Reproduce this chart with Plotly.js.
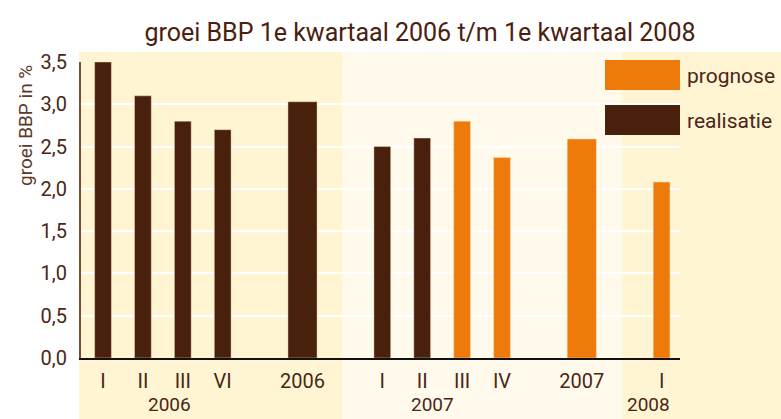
<!DOCTYPE html>
<html>
<head>
<meta charset="utf-8">
<script src="https://cdn.plot.ly/plotly-3.0.1.min.js"></script>
<style>
  html, body { margin: 0; padding: 0; background: #ffffff; }
  #chart { width: 781px; height: 419px; }
</style>
</head>
<body>
<div id="chart"></div>
<script>
// ---- data ----
const barLabels = ['I', 'II', 'III', 'VI', '2006', 'I', 'II', 'III', 'IV', '2007', 'I'];
const barGroups = ['2006', '2006', '2006', '2006', '2006', '2007', '2007', '2007', '2007', '2007', '2008'];
const growth    = [3.5, 3.1, 2.8, 2.7, 3.03, 2.5, 2.6, 2.8, 2.37, 2.59, 2.08];
const barStatus = ['realisatie', 'realisatie', 'realisatie', 'realisatie', 'realisatie',
                   'realisatie', 'realisatie', 'prognose', 'prognose', 'prognose', 'prognose'];
const years = ['2006', '2007', '2008'];
const seriesNames = ['prognose', 'realisatie'];
const yTicks = [0, 0.5, 1.0, 1.5, 2.0, 2.5, 3.0, 3.5];
const titleText = 'groei BBP 1e kwartaal 2006 t/m 1e kwartaal 2008';
const yTitleText = 'groei BBP in %';

// ---- styling ----
const colors = { prognose: '#ee7a0b', realisatie: '#48200c' };
const textColor = '#4a2616';
const bandColors = { '2006': '#fff5d3', '2007': '#fffaec', '2008': '#fff5d3' };
const W = 781, H = 419;
const M = { l: 81, r: 101, t: 62, b: 61 };
const plotW = W - M.l - M.r, plotH = H - M.t - M.b;

// ---- slot positions (layout): annual bars sit one empty slot apart ----
const isAnnual = barLabels.map(l => /^\d{4}$/.test(l));
const pos = [];
let s = 0;
for (let i = 0; i < barLabels.length; i++) {
  if (i > 0) s += (isAnnual[i] || isAnnual[i - 1]) ? 2 : 1;
  pos.push(s);
}
const slotPx = 39.9;
const x0 = -22 / slotPx;
const x1 = x0 + plotW / slotPx;
const toPaperX = v => (v - x0) / (x1 - x0);
const widths = isAnnual.map(a => a ? 0.73 : 0.42);

// ---- traces ----
const traces = seriesNames.map(name => {
  const idx = growth.map((_, i) => i).filter(i => barStatus[i] === name);
  return {
    type: 'bar',
    name: name,
    x: idx.map(i => pos[i]),
    y: idx.map(i => growth[i]),
    width: idx.map(i => widths[i]),
    marker: { color: colors[name], line: { color: 'rgba(255,225,190,0.55)', width: 0.8 } },
    hoverinfo: 'x+y',
    showlegend: false
  };
});

// ---- background bands per year ----
const shapes = [];
const annotations = [];
const bandEdges = [];
years.forEach((yr, k) => {
  const idx = barGroups.map((g, i) => i).filter(i => barGroups[i] === yr);
  const first = pos[idx[0]], last = pos[idx[idx.length - 1]];
  bandEdges.push({ yr, first, last, idx });
});
bandEdges.forEach((b, k) => {
  const left = k === 0 ? -2 / plotW : toPaperX((bandEdges[k - 1].last + b.first) / 2);
  const right = k === bandEdges.length - 1 ? (W - M.l) / plotW : toPaperX((b.last + bandEdges[k + 1].first) / 2);
  shapes.push({
    type: 'rect', xref: 'paper', yref: 'paper', layer: 'below',
    x0: left, x1: right, y0: -M.b / plotH, y1: 1 + 10 / plotH,
    fillcolor: bandColors[b.yr], line: { width: 0 }
  });
});

// year labels (second row)
const yearShift = [7, -10, -13];
bandEdges.forEach((b, k) => {
  const q = b.idx.filter(i => !isAnnual[i]).map(i => pos[i]);
  const c = q.reduce((a, v) => a + v, 0) / q.length;
  annotations.push({
    xref: 'x', yref: 'paper', x: c, y: 0, yshift: -46, xshift: yearShift[k],
    text: b.yr, showarrow: false, xanchor: 'center', yanchor: 'middle',
    font: { family: 'Roboto, sans-serif', size: 19, color: textColor }
  });
});

// legend drawn as boxes + text
seriesNames.forEach((name, k) => {
  const top = 60 + k * 45, bot = top + 30;
  shapes.push({
    type: 'rect', xref: 'paper', yref: 'paper', layer: 'above',
    x0: (605 - M.l) / plotW, x1: (680 - M.l) / plotW,
    y0: (H - M.b - bot) / plotH, y1: (H - M.b - top) / plotH,
    fillcolor: colors[name], line: { width: 0 }
  });
  annotations.push({
    xref: 'paper', yref: 'paper', x: (685 - M.l) / plotW, y: (H - M.b - (top + 16)) / plotH,
    text: name, showarrow: false, xanchor: 'left', yanchor: 'middle',
    font: { family: 'Roboto, sans-serif', size: 21, color: textColor }
  });
});

// y-axis title
annotations.push({
  xref: 'paper', yref: 'paper', x: (25 - M.l) / plotW, y: (H - M.b - 126) / plotH,
  text: yTitleText, textangle: -90, showarrow: false, xanchor: 'center', yanchor: 'middle',
  font: { family: 'Roboto, sans-serif', size: 19, color: '#5b3a28' }
});

const layout = {
  width: W, height: H,
  margin: M,
  paper_bgcolor: '#ffffff',
  plot_bgcolor: 'rgba(0,0,0,0)',
  separators: ',.',
  title: {
    text: titleText,
    x: 420 / W, xref: 'container', xanchor: 'center',
    y: 1 - 32 / H, yref: 'container', yanchor: 'middle',
    font: { family: 'Roboto, sans-serif', size: 25, color: '#4a2010', weight: 'normal' }
  },
  xaxis: {
    range: [x0, x1],
    tickmode: 'array', tickvals: pos, ticktext: barLabels,
    ticks: '', showgrid: false, zeroline: false,
    showline: true, linecolor: '#111111', linewidth: 2,
    ticklabelstandoff: 4,
    tickfont: { family: 'Roboto, sans-serif', size: 20, color: textColor },
    fixedrange: true
  },
  yaxis: {
    range: [0, 3.5],
    tickmode: 'array', tickvals: yTicks, tickformat: '.1f',
    ticks: '', showgrid: true, gridcolor: '#ffffff', gridwidth: 2,
    zeroline: false,
    showline: true, linecolor: '#7a4e2e', linewidth: 2,
    ticklabelstandoff: 8,
    tickfont: { family: 'Roboto, sans-serif', size: 20, color: textColor },
    fixedrange: true
  },
  bargap: 0,
  shapes: shapes,
  annotations: annotations
};

Plotly.newPlot('chart', traces, layout, { displayModeBar: false, staticPlot: true });
</script>
</body>
</html>
